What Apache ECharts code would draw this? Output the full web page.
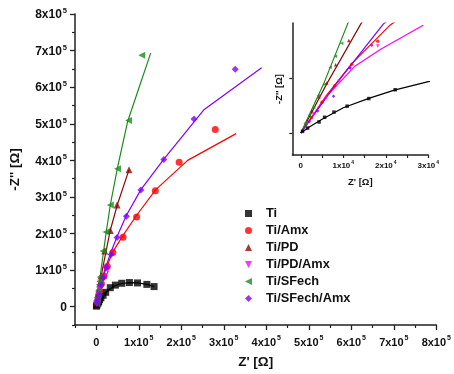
<!DOCTYPE html>
<html><head><meta charset="utf-8">
<script src="https://cdn.jsdelivr.net/npm/echarts@6/dist/echarts.min.js"></script>
<style>html,body{margin:0;padding:0;background:#fff}#c{width:454px;height:374px}</style>
</head><body><div id="c"></div>
<script>
// ---- data (Z' , -Z'') in ohm ----
const names = ['Ti','Ti/Amx','Ti/PD','Ti/PD/Amx','Ti/SFech','Ti/SFech/Amx'];
const colors = ['#000000','#ff0000','#8b0a0a','#ff00ff','#1a8c1a','#8000ff'];

const ti = [[400,1500],[1600,4500],[4300,10000],[5600,14300],[7800,19000],[10900,24400],[16000,31300],[22200,39300],[33000,52000],[45000,59000],[60000,64000],[78000,66000],[97000,65000],[119000,61000],[136000,55000]];
const tiAmx = [[2500,14000],[5000,28000],[8000,43000],[12000,62500],[18100,83300],[26000,110000],[39000,148000],[63000,190000],[95000,245000],[139000,317000],[195000,395000],[280000,484000]];
const tiPD = [[1500,11000],[2600,20000],[4300,33000],[6100,45500],[8200,62000],[11300,84000],[20000,152000],[33000,208000],[49000,278000],[77000,374000]];
const tiPDAmx = [[1500,9000],[3000,17000],[6000,32000],[9000,47000],[11600,59000],[18100,79000],[26000,103000]];
const tiSF = [[1000,8800],[2000,16200],[3000,23500],[4100,33800],[5500,44200],[6900,59700],[8100,69800],[9600,81500],[16000,152000],[23000,204000],[33000,278000],[50000,377000],[76000,509000],[107000,687000]];
const tiSFAmx = [[2000,10500],[4000,20000],[7700,33500],[11600,59000],[16700,79700],[24000,107000],[35000,143000],[49000,189000],[71000,247000],[105000,319000],[159000,402000],[230000,513000],[327000,649000]];

const fitTi = [[0,0],[2000,5500],[5000,12500],[10000,23000],[16000,31500],[22000,39000],[30000,46700],[45000,58000],[60000,63500],[78000,66000],[97000,65000],[119000,61000],[136000,55000]];
const fitTiAmx = [[0,0],[6000,34000],[12000,63000],[21000,98000],[39000,150000],[63000,195000],[95000,250000],[140000,320000],[215000,400000],[329000,473000]];
const fitTiPD = [[0,0],[6000,44000],[14100,99000],[33000,209000],[50000,280000],[77000,374000]];
const fitTiPDAmx = [[0,0],[6000,33000],[12800,61000],[18700,76000],[28800,98000]];
const fitTiSF = [[0,0],[5300,44000],[11000,99000],[23000,200000],[33000,278000],[50000,380000],[74000,507000],[128000,693000]];
const fitTiSFAmx = [[0,0],[8000,43000],[19400,99000],[35000,150000],[49000,192000],[71000,250000],[105000,320000],[160000,405000],[254000,539000],[389000,653000]];

// ---- ticks ----
const mainTicks = [0,100000,200000,300000,400000,500000,600000,700000,800000];
const mainMinor = [-50000,50000,150000,250000,350000,450000,550000,650000,750000];
const insetXTicks = [0,10000,20000,30000];
const insetXMinor = [5000,15000,25000];
const insetYTicks = [0,50000];

const dataSets = [ti,tiAmx,tiPD,tiPDAmx,tiSF,tiSFAmx];
const fits = [fitTi,fitTiAmx,fitTiPD,fitTiPDAmx,fitTiSF,fitTiSFAmx];
const symbols = ['rect','circle','triangle','path://M0,0 L10,0 L5,10 Z','path://M0,5 L10,0 L10,10 Z','diamond'];
const FONT = '"Liberation Sans", Arial, sans-serif';

function sciFmt(exp, base){
  return function(v){
    if (Math.abs(v) < 1e-9) return '{b|0}';
    return '{b|' + Math.round(v/base) + 'x10}{s|' + exp + '}';
  };
}
function rich(fs, ss){
  return {
    b:{fontSize:fs,fontWeight:'bold',fontFamily:FONT,color:'#111',lineHeight:fs+2,verticalAlign:'bottom'},
    s:{fontSize:ss,fontWeight:'bold',fontFamily:FONT,color:'#111',lineHeight:fs+2,verticalAlign:'top',padding:[0,0,0,1]}
  };
}
const axisLine = {show:true,onZero:false,lineStyle:{color:'#222',width:1.5}};
const noLine = {show:false,onZero:false};

const chart = echarts.init(document.getElementById('c'));
const series = [];
for (let i=0;i<6;i++){
  series.push({name:names[i]+' fit',type:'line',xAxisIndex:0,yAxisIndex:0,data:fits[i],showSymbol:false,symbol:'none',lineStyle:{color:colors[i],width:1.2},z:2,silent:true});
}
for (let i=0;i<6;i++){
  series.push({name:names[i],type:'scatter',xAxisIndex:0,yAxisIndex:0,data:dataSets[i],symbol:symbols[i],symbolSize:7,itemStyle:{color:colors[i]},z:3});
}
for (let i=0;i<6;i++){
  series.push({name:names[i]+' fit',type:'line',xAxisIndex:2,yAxisIndex:2,data:fits[i],showSymbol:false,symbol:'none',lineStyle:{color:colors[i],width:1.2},z:2,silent:true,clip:true});
}
for (let i=0;i<6;i++){
  series.push({name:names[i],type:'scatter',xAxisIndex:2,yAxisIndex:2,data:dataSets[i],symbol:symbols[i],symbolSize:3.5,itemStyle:{color:colors[i]},z:3,clip:true});
}

chart.setOption({
  animation:false,
  backgroundColor:'#fff',
  grid:[
    {left:73,top:14,width:367.5,height:316},
    {left:292.3,top:23,width:136,height:132}
  ],
  legend:{
    orient:'vertical',left:240,top:202,itemWidth:7,itemHeight:7,itemGap:4,
    data:names,
    textStyle:{fontFamily:FONT,fontWeight:'bold',fontSize:12.8,color:'#111',padding:[0,0,0,9]}
  },
  xAxis:[
    {gridIndex:0,type:'value',min:-50000,max:800000,axisLine:axisLine,splitLine:{show:false},
     axisTick:{show:true,customValues:mainTicks,length:5,lineStyle:{color:'#222',width:1.3}},
     axisLabel:{customValues:mainTicks,margin:10,formatter:sciFmt(5,1e5),rich:rich(11,7)},
     name:"Z' [Ω]",nameLocation:'middle',nameGap:30,
     nameTextStyle:{fontFamily:FONT,fontWeight:'bold',fontSize:13.5,color:'#111'}},
    {gridIndex:0,type:'value',min:-50000,max:800000,position:'bottom',axisLine:noLine,splitLine:{show:false},
     axisTick:{show:true,customValues:mainMinor,length:3,lineStyle:{color:'#222',width:1.2}},
     axisLabel:{show:false}},
    {gridIndex:1,type:'value',min:-2000,max:30000,axisLine:axisLine,splitLine:{show:false},
     axisTick:{show:true,customValues:insetXTicks.concat(insetXMinor),length:3,lineStyle:{color:'#222',width:1.2}},
     axisLabel:{customValues:insetXTicks,margin:5,formatter:sciFmt(4,1e4),rich:rich(8,5)},
     name:"Z' [Ω]",nameLocation:'middle',nameGap:22,
     nameTextStyle:{fontFamily:FONT,fontWeight:'bold',fontSize:9.5,color:'#111'}}
  ],
  yAxis:[
    {gridIndex:0,type:'value',min:-50000,max:800000,axisLine:axisLine,splitLine:{show:false},
     axisTick:{show:true,customValues:mainTicks,length:5,lineStyle:{color:'#222',width:1.3}},
     axisLabel:{customValues:mainTicks,margin:8,formatter:sciFmt(5,1e5),rich:rich(12,7.5)},
     name:"-Z'' [Ω]",nameLocation:'middle',nameGap:53,nameRotate:90,
     nameTextStyle:{fontFamily:FONT,fontWeight:'bold',fontSize:13.5,color:'#111'}},
    {gridIndex:0,type:'value',min:-50000,max:800000,position:'left',axisLine:noLine,splitLine:{show:false},
     axisTick:{show:true,customValues:mainMinor,length:3,lineStyle:{color:'#222',width:1.2}},
     axisLabel:{show:false}},
    {gridIndex:1,type:'value',min:-20000,max:100000,axisLine:axisLine,splitLine:{show:false},
     axisTick:{show:true,customValues:insetYTicks,length:3,lineStyle:{color:'#222',width:1.2}},
     axisLabel:{show:false},
     name:"-Z'' [Ω]",nameLocation:'middle',nameGap:8,nameRotate:90,
     nameTextStyle:{fontFamily:FONT,fontWeight:'bold',fontSize:9.5,color:'#111'}}
  ],
  series:series
});
</script></body></html>
